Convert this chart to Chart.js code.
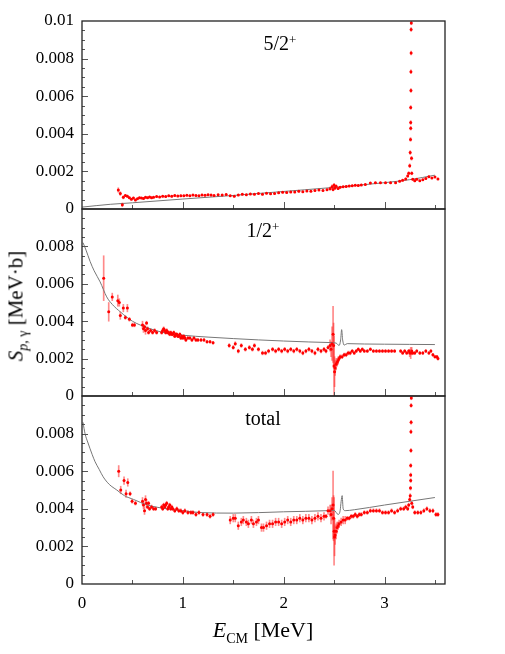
<!DOCTYPE html>
<html lang="en">
<head>
<meta charset="UTF-8">
<title>S-factor panels</title>
<script src="https://cdn.jsdelivr.net/npm/chart.js"></script>
<style>
  body { margin: 0; background: #fff; }
  #wrap { position: relative; width: 505px; height: 654px; background: #fff; font-family: "Liberation Serif", "DejaVu Serif", serif; color: #000; }
  canvas { position: absolute; left: 0; }
  .lbl { position: absolute; font-size: 20px; line-height: 20px; white-space: nowrap; transform: translateX(-50%); }
  .lbl sup { font-size: 13px; position: relative; top: -3px; vertical-align: top; }
  #ytitle { position: absolute; left: 17px; top: 306px; font-size: 21px; line-height: 21px; white-space: nowrap; transform: translate(-50%, -50%) rotate(-90deg); }
  #ytitle .sb { font-size: 14px; position: relative; top: 5px; }
  #xtitle { position: absolute; left: 263px; top: 619px; font-size: 22px; line-height: 22px; white-space: nowrap; transform: translateX(-50%); }
  #xtitle .sb { font-size: 14px; position: relative; top: 6px; }
</style>
</head>
<body>
<div id="wrap">
  <canvas id="c1" width="505" height="230" style="top:0"></canvas>
  <canvas id="c2" width="505" height="240" style="top:180px"></canvas>
  <canvas id="c3" width="505" height="284" style="top:370px"></canvas>
  <div class="lbl" style="left:280px;top:33px">5/2<sup>+</sup></div>
  <div class="lbl" style="left:263px;top:220px">1/2<sup>+</sup></div>
  <div class="lbl" style="left:263px;top:408px">total</div>
  <div id="ytitle"><i>S</i><span class="sb"><i>p</i>, γ</span> [MeV·b]</div>
  <div id="xtitle"><i>E</i><span class="sb">CM</span> [MeV]</div>
</div>
<script>
// axes
const xTickValues = [0, 1, 2, 3];
const xTickLabels = ['0', '1', '2', '3'];
const xTickMarks = [0.5, 1, 1.5, 2, 2.5, 3, 3.5];
const yTickValues = [0, 0.002, 0.004, 0.006, 0.008, 0.01];
const yLabelsTop = ['0', '0.002', '0.004', '0.006', '0.008', '0.01'];
const yLabelsLower = ['0', '0.002', '0.004', '0.006', '0.008', ''];
const yTickMarks = [0.0005, 0.001, 0.0015, 0.002, 0.0025, 0.003, 0.0035, 0.004, 0.0045, 0.005,
  0.0055, 0.006, 0.0065, 0.007, 0.0075, 0.008, 0.0085, 0.009, 0.0095];

// 5/2+ panel
const e52 = [
  0.36,0.38,0.40,0.41,0.43,0.45,0.47,0.49,0.51,0.53,
  0.55,0.57,0.59,0.61,0.63,0.65,0.67,0.69,0.71,0.74,
  0.77,0.80,0.83,0.86,0.89,0.92,0.95,0.98,1.01,1.04,
  1.07,1.10,1.13,1.16,1.19,1.22,1.25,1.28,1.31,1.35,
  1.39,1.43,1.47,1.51,1.55,1.59,1.63,1.67,1.71,1.75,
  1.79,1.83,1.87,1.91,1.95,1.99,2.03,2.07,2.11,2.15,
  2.19,2.23,2.27,2.31,2.35,2.39,2.43,2.46,2.48,2.49,
  2.50,2.51,2.52,2.54,2.56,2.59,2.62,2.65,2.68,2.71,
  2.74,2.77,2.81,2.86,2.91,2.96,3.01,3.06,3.11,3.15,
  3.18,3.21,3.23,3.24,3.25,3.255,3.258,3.26,3.26,3.26,
  3.262,3.262,3.264,3.264,3.266,3.266,3.268,3.27,3.28,3.30,
  3.32,3.35,3.38,3.41,3.44,3.47,3.50,3.53];
const s52 = [
  0.00101,0.00082,0.00022,0.00062,0.00072,0.00068,0.00060,0.00052,0.00058,0.00048,
  0.00055,0.00060,0.00058,0.00056,0.00062,0.00060,0.00064,0.00060,0.00063,0.00066,
  0.00064,0.00068,0.00066,0.00070,0.00068,0.00072,0.00069,0.00071,0.00070,0.00073,
  0.00071,0.00074,0.00072,0.00070,0.00075,0.00073,0.00076,0.00074,0.00072,0.00076,
  0.00074,0.00077,0.00071,0.00068,0.00074,0.00078,0.00076,0.00080,0.00079,0.00082,
  0.00078,0.00084,0.00081,0.00083,0.00086,0.00089,0.00088,0.00091,0.00090,0.00094,
  0.00092,0.00096,0.00095,0.00098,0.00101,0.00099,0.00103,0.00108,0.00118,0.00104,
  0.00126,0.00112,0.00121,0.00109,0.00116,0.00118,0.00120,0.00122,0.00124,0.00126,
  0.00125,0.00128,0.00130,0.00138,0.00139,0.00139,0.00139,0.00140,0.00140,0.00148,
  0.00153,0.00160,0.00176,0.00190,0.00230,0.00300,0.00370,0.00430,0.00460,0.00540,
  0.00630,0.00730,0.00830,0.00955,0.00990,0.01100,0.00270,0.00190,0.00158,0.00150,
  0.00158,0.00150,0.00156,0.00162,0.00172,0.00165,0.00170,0.00160];
const d52 = [
  0.00012,0.0001,0.0001,0.00008,0.00006,0.00006,0.00005,0.00005,0.00005,0.00005,
  0.00004,0.00004,0.00004,0.00004,0.00004,0.00004,0.00004,0.00004,0.00004,0.00004,
  0.00004,0.00004,0.00004,0.00004,0.00004,0.00004,0.00004,0.00004,0.00004,0.00004,
  0.00004,0.00004,0.00004,0.00004,0.00004,0.00004,0.00004,0.00004,0.00004,0.00004,
  0.00004,0.00004,0.00004,0.00004,0.00004,0.00004,0.00004,0.00004,0.00004,0.00004,
  0.00004,0.00004,0.00004,0.00004,0.00004,0.00004,0.00004,0.00004,0.00004,0.00004,
  0.00004,0.00004,0.00004,0.00004,0.00004,0.00004,0.00006,0.00008,0.0001,0.00008,
  0.0001,0.00008,0.00008,0.00006,0.00005,0.00004,0.00004,0.00004,0.00004,0.00004,
  0.00004,0.00004,0.00004,0.00004,0.00004,0.00004,0.00004,0.00004,0.00004,0.00004,
  0.00005,0.00005,0.00006,0.00008,0.0001,0.0001,0.0001,0.0001,0.0001,0.0001,
  0.0001,0.0001,0.0001,0.0001,0.0001,0.0001,0.0001,0.00008,0.00005,0.00005,
  0.00004,0.00004,0.00004,0.00004,0.00004,0.00004,0.00004,0.00004];
const fitE52 = [0, 0.28, 0.5, 1.0, 1.5, 1.92, 2.5, 3.0, 3.25, 3.5];
const fitS52 = [0.0001, 0.00025, 0.00033, 0.00053, 0.00072, 0.0009, 0.00115, 0.0014, 0.00156, 0.0018];

// 1/2+ panel
const e12 = [
  0.215,0.265,0.30,0.355,0.37,0.38,0.41,0.43,0.45,0.47,
  0.50,0.52,0.60,0.61,0.62,0.63,0.64,0.65,0.66,0.68,
  0.70,0.72,0.74,0.79,0.80,0.81,0.82,0.83,0.84,0.85,
  0.86,0.87,0.88,0.89,0.90,0.91,0.92,0.93,0.94,0.95,
  0.96,0.97,0.98,0.99,1.00,1.01,1.02,1.03,1.05,1.07,
  1.09,1.11,1.13,1.15,1.18,1.21,1.24,1.27,1.30,1.46,
  1.50,1.52,1.55,1.58,1.62,1.66,1.69,1.71,1.75,1.79,
  1.82,1.85,1.89,1.92,1.95,1.98,2.01,2.04,2.07,2.10,
  2.13,2.16,2.19,2.22,2.25,2.28,2.31,2.34,2.37,2.40,
  2.42,2.44,2.46,2.47,2.48,2.49,2.495,2.50,2.505,2.51,
  2.52,2.53,2.54,2.55,2.56,2.58,2.60,2.62,2.64,2.66,
  2.68,2.70,2.72,2.74,2.76,2.78,2.80,2.83,2.86,2.89,
  2.92,2.95,2.98,3.01,3.04,3.07,3.10,3.16,3.18,3.20,
  3.22,3.24,3.25,3.26,3.27,3.28,3.30,3.32,3.35,3.38,
  3.41,3.44,3.46,3.48,3.50,3.52,3.53];
const s12 = [
  0.0063,0.0045,0.0053,0.0051,0.0050,0.0043,0.0047,0.0042,0.0047,0.0041,
  0.0038,0.0038,0.0038,0.0036,0.0037,0.0035,0.0039,0.0036,0.0034,0.0035,
  0.0034,0.0035,0.0034,0.0034,0.0035,0.0036,0.0035,0.0034,0.0035,0.0034,
  0.0034,0.0033,0.0034,0.0033,0.0033,0.0034,0.0032,0.0033,0.0033,0.0032,
  0.0032,0.0033,0.0031,0.0032,0.0031,0.0032,0.0031,0.0030,0.0031,0.0031,
  0.0030,0.0031,0.0030,0.0030,0.0030,0.0030,0.0029,0.0029,0.00285,0.0027,
  0.0026,0.0028,0.0024,0.0027,0.0025,0.0026,0.0025,0.0027,0.0025,0.0023,
  0.0023,0.0024,0.0025,0.0024,0.0025,0.0024,0.0025,0.0024,0.0025,0.0024,
  0.0025,0.0024,0.0023,0.0024,0.0025,0.0024,0.0023,0.0025,0.0024,0.0025,
  0.0024,0.0026,0.0027,0.0025,0.0028,0.0033,0.0027,0.0016,0.0013,0.0015,
  0.0017,0.0018,0.0019,0.0020,0.0021,0.0021,0.0022,0.0022,0.0023,0.0023,
  0.0024,0.0023,0.0024,0.0025,0.0024,0.0025,0.0024,0.0024,0.0025,0.0024,
  0.0024,0.0024,0.0024,0.0024,0.0024,0.0024,0.0024,0.0024,0.0023,0.0024,
  0.0023,0.0024,0.0023,0.0023,0.0024,0.0023,0.0023,0.0024,0.0023,0.0023,
  0.0024,0.0023,0.0024,0.0022,0.0021,0.0021,0.0020];
const d12 = [
  0.0012,0.0005,0.0002,0.0003,0.0002,0.0002,0.0002,0.0001,0.0002,0.0001,
  0.0001,0.0001,0.0002,0.0002,0.0001,0.0002,0.0001,0.0001,0.0001,0.0001,
  0.0001,0.0001,0.0001,0.0001,0.0001,0.0001,0.0001,0.0001,0.0001,0.0001,
  0.00008,0.00008,0.00008,0.00008,0.00008,0.00008,0.00008,0.00008,0.00008,0.00008,
  0.00008,0.00008,0.00008,0.00008,0.00008,0.00008,0.00008,0.00008,0.00008,0.00008,
  0.00008,0.00008,0.00008,0.00008,0.00008,0.00008,0.00008,0.00008,0.00008,0.0001,
  0.0001,0.0001,0.0001,0.0001,0.0001,0.0001,0.0001,0.0001,0.0001,0.0001,
  0.0001,0.0001,0.0001,0.0001,0.0001,0.0001,0.0001,0.0001,0.0001,0.0001,
  0.0001,0.0001,0.0001,0.0001,0.0001,0.0001,0.0001,0.0001,0.0001,0.0001,
  0.0001,0.0001,0.0003,0.0004,0.0009,0.0015,0.0012,0.0016,0.0008,0.0004,
  0.0003,0.0002,0.0002,0.0001,0.0001,0.0001,0.0001,0.0001,0.0001,0.0001,
  0.00008,0.00008,0.00008,0.00008,0.00008,0.00008,0.00008,0.00008,0.00008,0.00008,
  0.00008,0.00008,0.00008,0.00008,0.00008,0.00008,0.00008,0.00008,0.00008,0.00008,
  0.00008,0.00008,0.0002,0.0003,0.0002,0.00008,0.00008,0.00008,0.00008,0.00008,
  0.00008,0.00008,0.00008,0.00008,0.00008,0.00008,0.00008];
const fitE12 = [0.01, 0.04, 0.08, 0.12, 0.18, 0.245, 0.3, 0.38, 0.5, 0.65, 0.8, 1.0, 1.25, 1.5, 1.75, 2.0, 2.25, 2.45,
  2.52, 2.55, 2.565, 2.575, 2.585, 2.6, 2.63, 2.8, 3.0, 3.25, 3.5];
const fitS12 = [0.0082, 0.0078, 0.0072, 0.0067, 0.0061, 0.0053, 0.0049, 0.0045, 0.0040, 0.00365, 0.0034, 0.00325, 0.00315,
  0.00307, 0.003, 0.00294, 0.00289, 0.00286, 0.00283, 0.0027, 0.003, 0.00355, 0.003, 0.00272, 0.0028, 0.00278,
  0.00277, 0.00276, 0.00275];

// total panel
const eTot = [
  0.364,0.384,0.417,0.437,0.454,0.477,0.497,0.53,0.60,0.61,
  0.62,0.63,0.64,0.65,0.66,0.67,0.69,0.71,0.73,0.79,
  0.80,0.81,0.82,0.83,0.84,0.85,0.86,0.87,0.88,0.89,
  0.90,0.92,0.94,0.96,0.98,1.00,1.02,1.05,1.08,1.10,
  1.13,1.16,1.20,1.24,1.27,1.30,1.47,1.50,1.52,1.55,
  1.58,1.60,1.63,1.65,1.68,1.70,1.73,1.75,1.78,1.80,
  1.83,1.86,1.89,1.92,1.95,1.98,2.01,2.04,2.07,2.10,
  2.13,2.16,2.19,2.22,2.25,2.28,2.31,2.34,2.37,2.40,
  2.42,2.44,2.46,2.47,2.48,2.49,2.495,2.50,2.505,2.51,
  2.52,2.53,2.54,2.55,2.57,2.59,2.61,2.63,2.65,2.67,
  2.69,2.71,2.73,2.75,2.77,2.80,2.83,2.86,2.89,2.92,
  2.95,2.98,3.01,3.04,3.07,3.10,3.13,3.16,3.19,3.21,
  3.23,3.24,3.25,3.255,3.258,3.26,3.26,3.26,3.262,3.262,
  3.264,3.264,3.266,3.268,3.27,3.28,3.30,3.33,3.36,3.39,
  3.42,3.45,3.48,3.51,3.53];
const sTot = [
  0.0060,0.0050,0.0055,0.0048,0.0054,0.0048,0.0044,0.0043,0.0044,0.0042,
  0.0039,0.0045,0.0043,0.0041,0.0043,0.0040,0.0041,0.0040,0.0040,0.0041,
  0.0040,0.0042,0.0041,0.0042,0.0043,0.0040,0.0041,0.0042,0.0040,0.0041,
  0.0040,0.0039,0.0040,0.0039,0.0039,0.0038,0.0039,0.0038,0.0038,0.0038,
  0.0037,0.0038,0.0037,0.0037,0.0036,0.0037,0.0034,0.0035,0.0035,0.0031,
  0.0033,0.0034,0.0033,0.0032,0.0034,0.0032,0.0033,0.0034,0.0030,0.0030,
  0.0031,0.0032,0.0032,0.0033,0.0033,0.0032,0.0033,0.0034,0.0033,0.0034,
  0.0034,0.0035,0.0034,0.0035,0.0035,0.0034,0.0035,0.0036,0.0035,0.0036,
  0.0036,0.0039,0.0039,0.0037,0.0040,0.0042,0.0035,0.0028,0.0025,0.0026,
  0.0028,0.0030,0.0031,0.0032,0.0033,0.0034,0.0034,0.0035,0.0035,0.0036,
  0.0036,0.0037,0.0036,0.0037,0.0037,0.0038,0.0038,0.0039,0.0039,0.0039,
  0.0039,0.0038,0.0038,0.0038,0.0039,0.0038,0.0039,0.0040,0.0040,0.0041,
  0.0040,0.0042,0.0045,0.0047,0.0051,0.0055,0.0058,0.0063,0.0071,0.0081,
  0.0086,0.0095,0.0099,0.0110,0.0043,0.0041,0.0038,0.0038,0.0038,0.0039,
  0.0040,0.0039,0.0039,0.0037,0.0037];
const dTot = [
  0.0003,0.0002,0.0002,0.0002,0.0002,0.0001,0.0001,0.0001,0.0002,0.0002,
  0.0002,0.0002,0.0002,0.0001,0.0001,0.0001,0.0001,0.0001,0.0001,0.0001,
  0.0001,0.0001,0.0001,0.0001,0.0001,0.0001,0.0001,0.0001,0.0001,0.0001,
  0.0001,0.0001,0.0001,0.0001,0.0001,0.0001,0.0001,0.0001,0.0001,0.0001,
  0.0001,0.0001,0.0001,0.0001,0.0001,0.0001,0.0002,0.0002,0.0002,0.0002,
  0.0002,0.0002,0.0002,0.0002,0.0002,0.0002,0.0002,0.0002,0.0002,0.0002,
  0.0002,0.0002,0.0002,0.0002,0.0002,0.0002,0.0002,0.0002,0.0002,0.0002,
  0.0002,0.0002,0.0002,0.0002,0.0002,0.0002,0.0002,0.0002,0.0002,0.0002,
  0.0001,0.0002,0.0003,0.0005,0.0006,0.0018,0.0012,0.0018,0.0010,0.0005,
  0.0004,0.0003,0.0002,0.0002,0.0002,0.0002,0.0002,0.0001,0.0001,0.0001,
  0.0001,0.0001,0.0001,0.0001,0.0001,0.0001,0.0001,0.0001,0.0001,0.0001,
  0.0001,0.0001,0.0001,0.0001,0.0001,0.0001,0.0001,0.0001,0.0001,0.0001,
  0.0001,0.0001,0.0001,0.0001,0.0001,0.0001,0.0001,0.0001,0.0001,0.0001,
  0.0001,0.0001,0.0001,0.0001,0.0001,0.0001,0.0001,0.0001,0.0001,0.0001,
  0.0001,0.0001,0.0001,0.0001,0.0001];
const fitETot = [0.01, 0.03, 0.06, 0.1, 0.13, 0.17, 0.21, 0.27, 0.345, 0.42, 0.51, 0.65, 0.84, 1.0, 1.17, 1.5, 2.0, 2.43,
  2.5, 2.54, 2.56, 2.57, 2.58, 2.59, 2.61, 2.7, 3.0, 3.25, 3.5];
const fitSTot = [0.0086, 0.0080, 0.0075, 0.0069, 0.0065, 0.0061, 0.0057, 0.0053, 0.0050, 0.0047, 0.0045, 0.0042, 0.0040,
  0.0039, 0.0038, 0.00377, 0.00384, 0.0039, 0.00392, 0.0037, 0.0039, 0.0044, 0.0047, 0.004, 0.0039, 0.00395, 0.0042,
  0.0044, 0.0046];

const font = { family: "'Liberation Serif', 'DejaVu Serif', serif", size: 17 };

const frameTicks = {
  id: 'frameTicks',
  afterDraw(chart) {
    const { ctx, chartArea: a, scales: { x, y } } = chart;
    ctx.save();
    ctx.strokeStyle = '#555';
    ctx.lineWidth = 1;
    ctx.beginPath();
    xTickMarks.forEach(v => {
      const px = Math.round(x.getPixelForValue(v)) + 0.5;
      const len = Number.isInteger(v) ? 7 : 4;
      ctx.moveTo(px, a.bottom);
      ctx.lineTo(px, a.bottom - len);
    });
    yTickMarks.forEach(v => {
      const py = Math.round(y.getPixelForValue(v)) + 0.5;
      const major = Math.abs(v / 0.002 - Math.round(v / 0.002)) < 1e-6;
      ctx.moveTo(a.left, py);
      ctx.lineTo(a.left + (major ? 6 : 3), py);
    });
    ctx.stroke();
    ctx.strokeStyle = '#222';
    ctx.lineWidth = 1.3;
    ctx.strokeRect(a.left, a.top, a.right - a.left, a.bottom - a.top);
    ctx.restore();
  }
};

function makePanel(id, energy, sfac, err, fitE, fitS, yLabels, pad, showX) {
  const points = energy.map((e, i) => ({ x: e, y: sfac[i] }));
  const bars = energy.map((e, i) => ({ x: e, y: [sfac[i] - err[i], sfac[i] + err[i]] }));
  const fit = fitE.map((e, i) => ({ x: e, y: fitS[i] }));
  return new Chart(document.getElementById(id), {
    type: 'scatter',
    data: {
      datasets: [
        { type: 'bar', data: bars, backgroundColor: 'rgba(255,40,40,0.55)', barThickness: 1, grouped: false, order: 3 },
        { type: 'line', data: fit, borderColor: '#777', borderWidth: 1, pointRadius: 0, fill: false,
          cubicInterpolationMode: 'monotone', order: 2 },
        { type: 'scatter', data: points, pointRadius: 1.5, backgroundColor: '#ff0000', borderWidth: 0, order: 1 }
      ]
    },
    options: {
      responsive: false,
      animation: false,
      devicePixelRatio: 1,
      layout: { padding: { left: 0, right: 60, top: pad[0], bottom: pad[1] } },
      plugins: { legend: { display: false }, tooltip: { enabled: false } },
      scales: {
        x: {
          type: 'linear', min: 0, max: 3.6, offset: false, display: showX,
          grid: { display: false, drawTicks: false }, border: { display: false },
          afterBuildTicks: s => { s.ticks = xTickValues.map(v => ({ value: v })); },
          afterFit: s => { if (showX) s.height = 70; },
          ticks: { font, color: '#000', padding: 9, callback: v => xTickLabels[xTickValues.indexOf(v)] }
        },
        y: {
          type: 'linear', min: 0, max: 0.01,
          grid: { display: false, drawTicks: false }, border: { display: false },
          afterBuildTicks: s => { s.ticks = yTickValues.map(v => ({ value: v })); },
          afterFit: s => { s.width = 82; },
          ticks: { font, color: '#000', padding: 8, callback: v => yLabels[yTickValues.indexOf(v)] }
        }
      }
    },
    plugins: [frameTicks]
  });
}

makePanel('c1', e52, s52, d52, fitE52, fitS52, yLabelsTop, [21, 21], false);
makePanel('c2', e12, s12, d12, fitE12, fitS12, yLabelsLower, [29, 24], false);
makePanel('c3', eTot, sTot, dTot, fitETot, fitSTot, yLabelsLower, [26, 0], true);
</script>
</body>
</html>
